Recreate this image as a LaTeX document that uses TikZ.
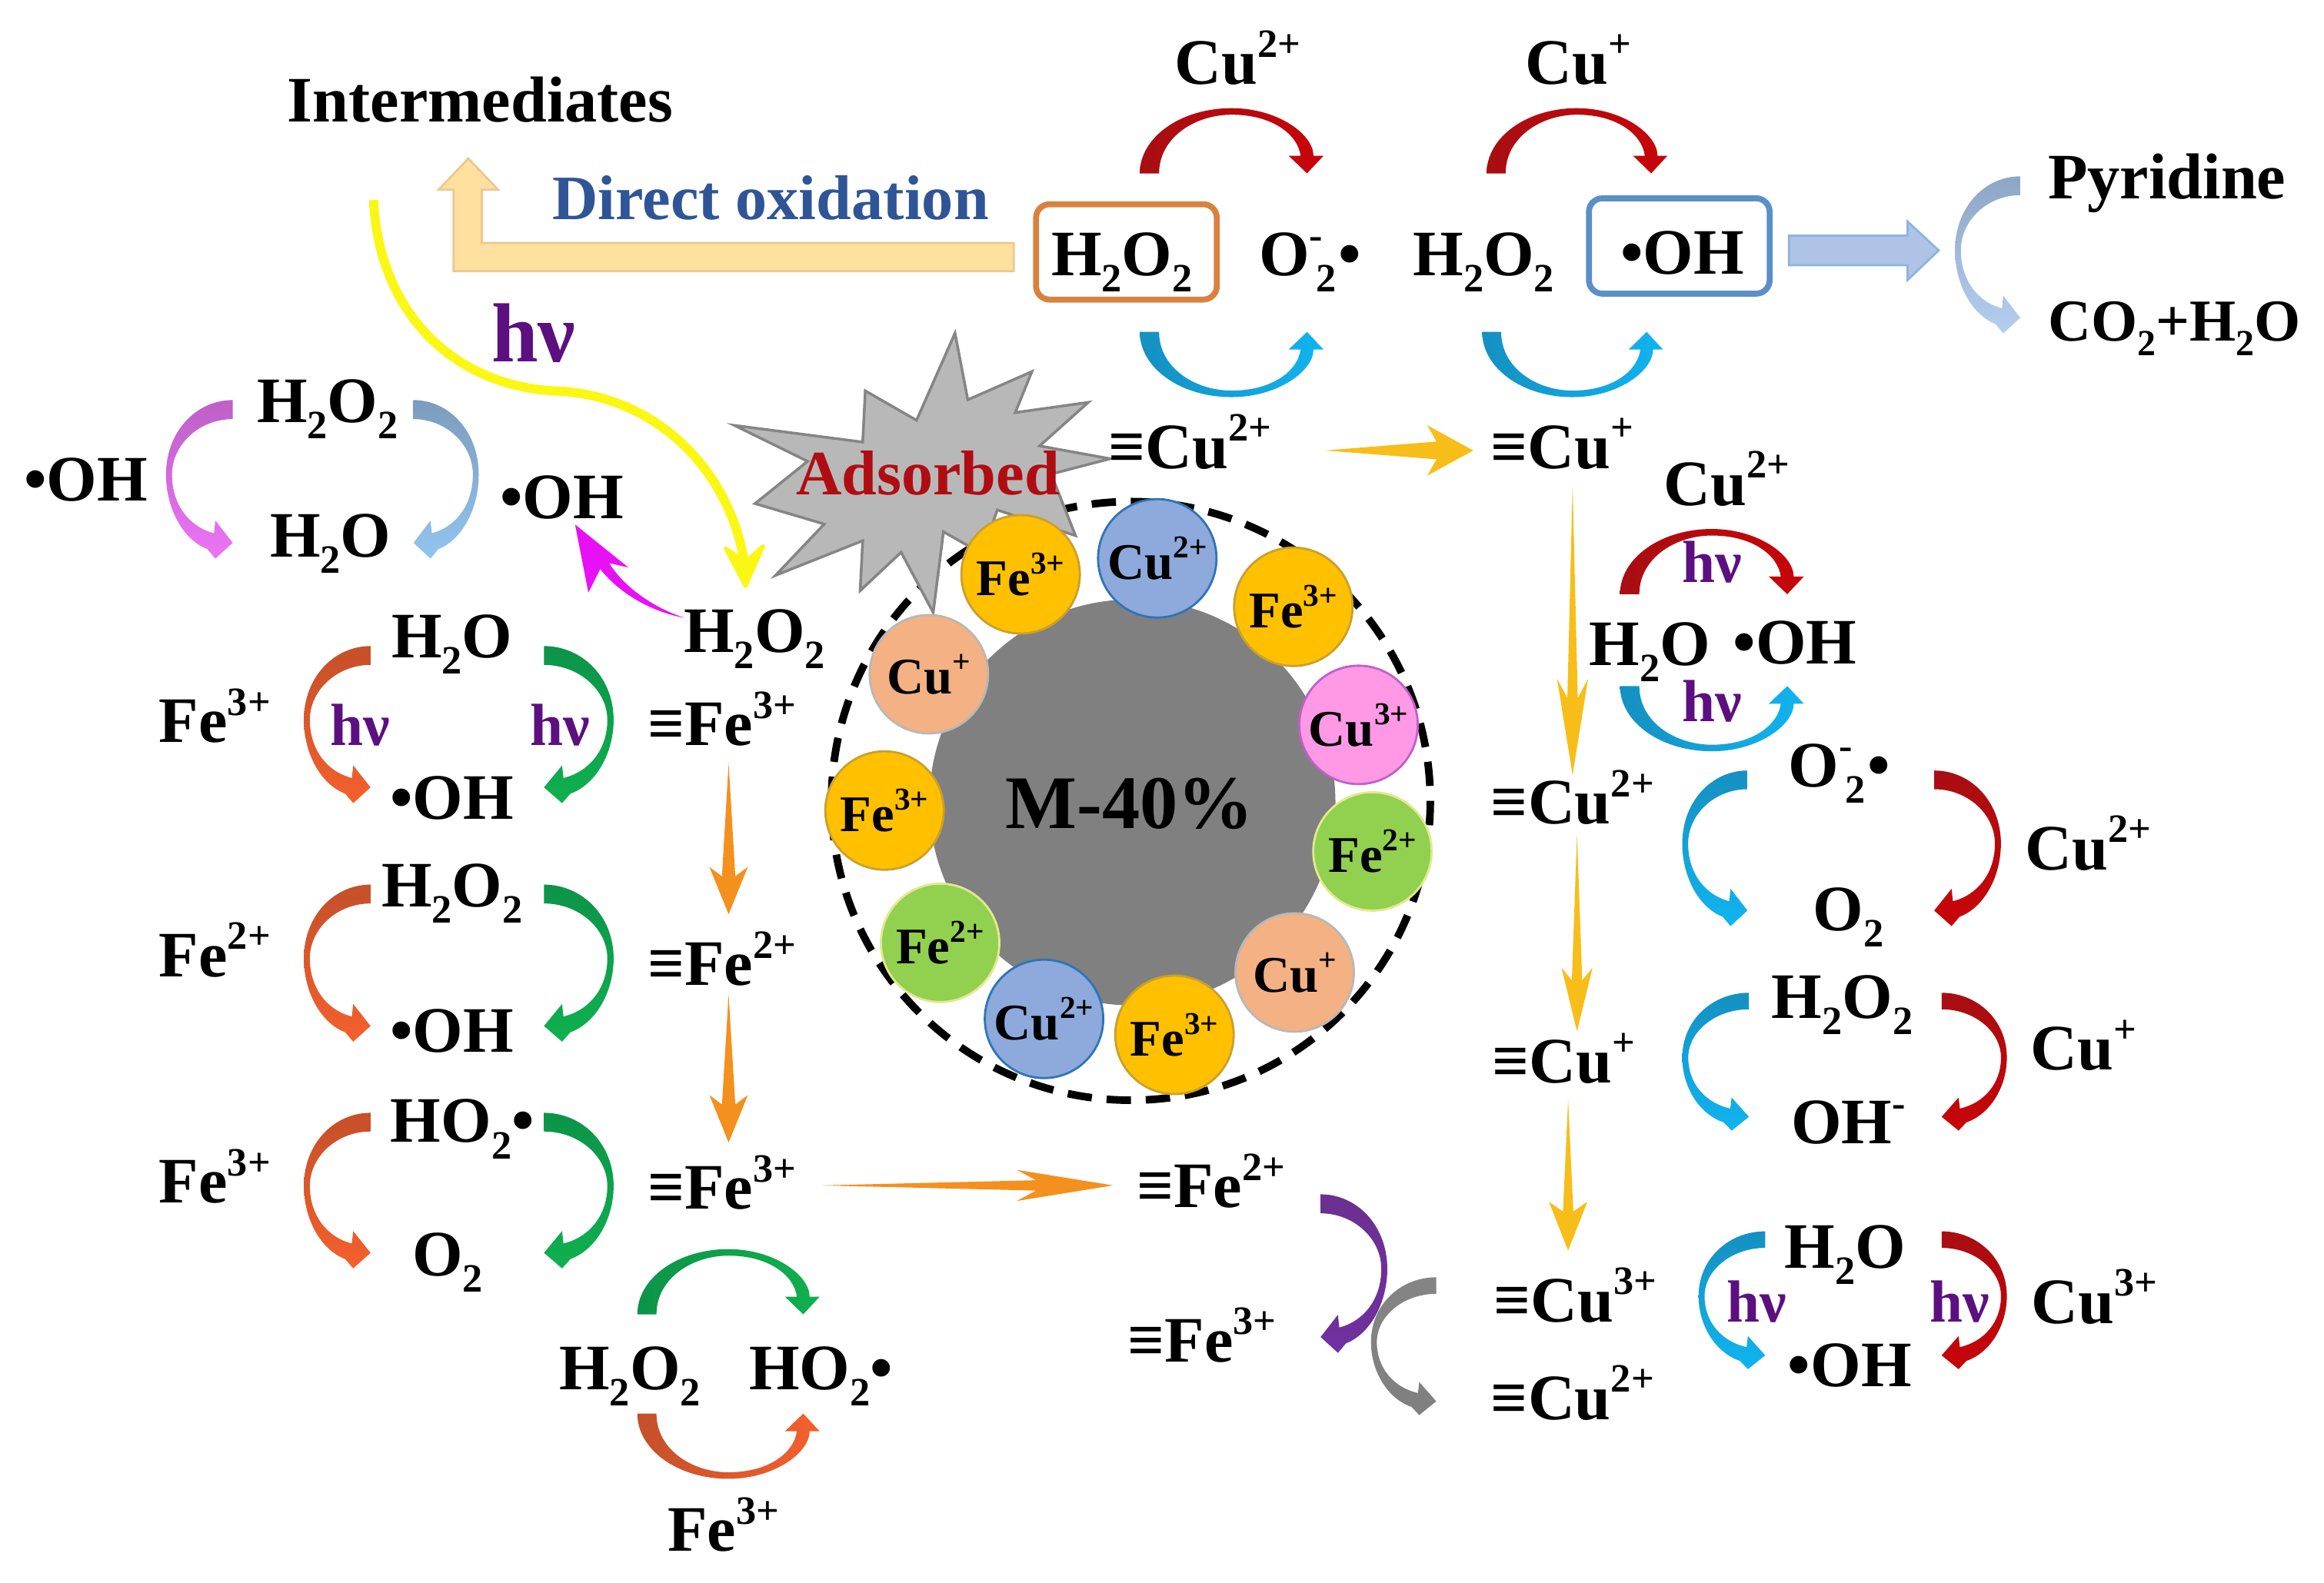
\documentclass[tikz,border=0pt]{standalone}
\usepackage{fontspec}
\setmainfont{Liberation Serif}
\definecolor{kred}{HTML}{B00D12}
\definecolor{kpur}{HTML}{5C1080}
\definecolor{FeY}{HTML}{FFC000}\definecolor{FeYe}{HTML}{C9A02E}
\definecolor{BallB}{HTML}{8EA9DB}\definecolor{BallBe}{HTML}{2E75B6}
\definecolor{BallO}{HTML}{F4B183}\definecolor{BallOe}{HTML}{B8B8B8}
\definecolor{BallP}{HTML}{FF99E6}\definecolor{BallPe}{HTML}{C060C8}
\definecolor{BallG}{HTML}{92D050}\definecolor{BallGe}{HTML}{E4E890}
\definecolor{Gold}{HTML}{F7BE1A}\definecolor{Org}{HTML}{F4901E}
\definecolor{RedA}{HTML}{A80E12}\definecolor{RedB}{HTML}{C80408}
\definecolor{CyA}{HTML}{1590C2}\definecolor{CyB}{HTML}{10B4F0}
\definecolor{OrA}{HTML}{C4502A}\definecolor{OrB}{HTML}{F4602C}
\definecolor{GrA}{HTML}{0C9448}\definecolor{GrB}{HTML}{10B050}
\definecolor{DirBlue}{HTML}{2F5597}
\definecolor{BoxO}{HTML}{D98240}\definecolor{BoxB}{HTML}{5A8FC8}
\definecolor{BlkF}{HTML}{AEC3E6}\definecolor{BlkD}{HTML}{8CB4E0}
\definecolor{PyrT}{HTML}{8EA6C6}\definecolor{PyrB}{HTML}{B4CEF0}
\definecolor{PurT}{HTML}{6C3090}\definecolor{PurB}{HTML}{7030A0}
\definecolor{PinkT}{HTML}{BE60C8}\definecolor{PinkB}{HTML}{EC74F4}
\definecolor{BlueT}{HTML}{7C9CBE}\definecolor{BlueB}{HTML}{92C4EE}
\definecolor{Yel}{HTML}{FBF714}\definecolor{Magen}{HTML}{E810F5}
\definecolor{OxF}{HTML}{FFE09E}\definecolor{OxD}{HTML}{EEC78F}
\newcommand\myup[1]{\raisebox{.42em}{\scalebox{.62}{#1}}}
\newcommand\mysub[1]{\raisebox{-.25em}{\scalebox{.62}{#1}}}
\newcommand\mystack[2]{\myup{#1}\kern-.1em\mysub{#2}\kern.03em}
\tikzset{
 txt/.style={anchor=base,inner sep=0pt,text=black,font=\fontsize{24}{26}\selectfont\bfseries},
 hvs/.style={txt,text=kpur,font=\fontsize{22}{24}\selectfont\bfseries},
 ball/.style={circle,minimum size=1.54cm,inner sep=0pt,line width=.8pt,text=black,font=\fontsize{19}{20}\selectfont\bfseries},
 feIII/.style={ball,fill=FeY,draw=FeYe},
 cuII/.style={ball,fill=BallB,draw=BallBe},
 cuI/.style={ball,fill=BallO,draw=BallOe},
 cuIII/.style={ball,fill=BallP,draw=BallPe},
 feII/.style={ball,fill=BallG,draw=BallGe},
 goldar/.style={fill=Gold},
 orgar/.style={fill=Org},
 redv/.style={top color=RedA,bottom color=RedB},
 bluev/.style={top color=CyA,bottom color=CyB},
 orv/.style={top color=OrA,bottom color=OrB},
 grv/.style={top color=GrA,bottom color=GrB},
 redh/.style={left color=RedA,right color=RedB},
 blueh/.style={left color=CyA,right color=CyB},
 grh/.style={left color=GrA,right color=GrB},
 orh/.style={left color=OrA,right color=OrB},
 boxed/.style={line width=2.2pt,rounded corners=5pt,minimum width=2.35cm,minimum height=1.24cm,inner sep=0pt},
}
% curved block arrow: (u,v) unit square mapped by origin and two vectors
\newcommand\cshape[7]{\begin{scope}[shift={(#2,#3)},x={(#4*0.019273cm,-#5*0.019273cm)},y={(#6*0.019273cm,-#7*0.019273cm)}]
 \path[#1] (1,0) .. controls (.45,0) and (0,.2) .. (0,.47) .. controls (0,.68) and (.25,.88) .. (.62,.94) -- (.74,1) -- (1,.9) -- (.74,.76) -- (.72,.84) .. controls (.35,.8) and (.09,.66) .. (.09,.47) .. controls (.09,.28) and (.5,.12) .. (1,.12) -- cycle;
\end{scope}}
% wide arc variant, for the arrows above and below a pair of labels
\newcommand\ashape[7]{\begin{scope}[shift={(#2,#3)},x={(#4*0.019273cm,-#5*0.019273cm)},y={(#6*0.019273cm,-#7*0.019273cm)}]
 \path[#1] (1,0) .. controls (.45,0) and (0,.22) .. (0,.5) .. controls (0,.75) and (.4,.945) .. (.73,.945) -- (.73,1) -- (1,.91) -- (.73,.81) -- (.73,.875) .. controls (.4,.86) and (.1,.72) .. (.1,.5) .. controls (.1,.3) and (.45,.105) .. (1,.105) -- cycle;
\end{scope}}
\newcommand\Cl[5]{\cshape{#1}{#2}{#3}{#4}{0}{0}{#5}}
\newcommand\Cr[5]{\cshape{#1}{#2+#4}{#3}{-#4}{0}{0}{#5}}
\newcommand\Ct[5]{\ashape{#1}{#2}{#3}{0}{#5}{#4}{0}}
\newcommand\Cb[5]{\ashape{#1}{#2}{#3+#5}{0}{-#5}{#4}{0}}
% straight tapered arrow: x y angle L headhalf headlen stemhalf style
\newcommand\spear[8]{\begin{scope}[shift={(#1,#2)},rotate=#3]
 \path[#8] (0,0) -- ({#4-#6*.8},#7) -- ({#4-#6},#5) -- (#4,0) -- ({#4-#6},-#5) -- ({#4-#6*.8},-#7) -- cycle;
\end{scope}}
\newcommand\T[5][]{\node[txt,#1] (#2) at (#3,#4+15) {#5};}
\begin{document}
\begin{tikzpicture}[x=0.019273cm,y=-0.019273cm]
\useasboundingbox (0,0) rectangle (1568,1068.3);
% core
\draw[black,line width=2.8pt,dash pattern=on 9pt off 5.5pt] (763,540.5) circle (202);
\fill[black!50] (764,541.5) circle (137);
% star
\begin{scope}[shift={(482.6,217.9)},scale=.17297]
\path[fill=black!28,draw=black!48,line width=1pt,line join=miter] (935,40) -- (985,300) -- (1235,190) -- (1170,350) -- (1455,310) -- (1265,480) -- (1540,530) -- (1310,590) -- (1405,830) -- (1100,730) -- (1040,900) -- (890,815) -- (850,1130) -- (725,895) -- (565,1045) -- (575,850) -- (235,985) -- (425,785) -- (155,705) -- (360,540) -- (75,400) -- (575,465) -- (585,265) -- (785,380) -- cycle;
\end{scope}
% balls
\node[feIII] (b1) at (688.6,387.6) {Fe\myup{3+}};
\node[cuII] (b2) at (780.8,376.8) {Cu\myup{2+}};
\node[feIII] (b3) at (872.6,409.5) {Fe\myup{3+}};
\node[cuIII] (b4) at (916.6,489.2) {Cu\myup{3+}};
\node[feII] (b5) at (926,574.6) {Fe\myup{2+}};
\node[cuI] (b6) at (873.5,656.3) {Cu\myup{+}};
\node[feIII] (b7) at (792.4,698.4) {Fe\myup{3+}};
\node[cuII] (b8) at (704.4,687.6) {Cu\myup{2+}};
\node[feII] (b9) at (634.3,636.3) {Fe\myup{2+}};
\node[feIII] (b10) at (596.8,547) {Fe\myup{3+}};
\node[cuI] (b11) at (626.7,455) {Cu\myup{+}};
\node[txt,font=\fontsize{28}{30}\selectfont\bfseries] (core) at (762,559) {M-40\%};
\node[txt,text=kred,font=\fontsize{23.4}{25}\selectfont\bfseries] (ads) at (626,334) {Adsorbed};
% direct-oxidation arrow
\path[fill=OxF,draw=OxD,line width=.8pt] (684,164) -- (325,164) -- (325,128) -- (336,128) -- (316,107) -- (296,128) -- (306,128) -- (306,183) -- (684,183) -- cycle;
\node[txt,text=DirBlue,font=\fontsize{23.4}{25}\selectfont\bfseries] (dir) at (520,148) {Direct oxidation};
% boxes
\node[boxed,draw=BoxO] (boxa) at (760,170) {};
\node[boxed,draw=BoxB] (boxb) at (1133,166) {};
% block arrow
\path[fill=BlkF,draw=BlkD,line width=.8pt] (1207,159) -- (1287,159) -- (1287,149.5) -- (1308,169) -- (1287,189) -- (1287,179) -- (1207,179) -- cycle;
\Cl{top color=PyrT,bottom color=PyrB}{1319}{119}{44}{106}
% top arcs
\Ct{redh}{769}{73}{124}{44}
\Ct{redh}{1003}{73}{122}{44}
\Cb{blueh}{769}{224}{124}{44}
\Cb{blueh}{1000}{224}{122}{44}
\Ct{redh}{1093}{357}{124}{44}
\Cb{blueh}{1093}{463}{124}{44}
% right side C arrows
\Cl{bluev}{1135}{520}{44}{105}
\Cr{redv}{1305}{520}{45}{105}
\Cl{bluev}{1135}{670}{45}{93}
\Cr{redv}{1310}{670}{44}{93}
\Cl{bluev}{1146}{831}{45}{93}
\Cr{redv}{1310}{831}{44}{93}
\Cr{top color=PurT,bottom color=PurB}{891}{806}{45}{107}
\Cl{top color=black!48,bottom color=black!50}{925}{862}{44}{93}
% left side C arrows
\Cl{top color=PinkT,bottom color=PinkB}{112}{270}{45}{107}
\Cr{top color=BlueT,bottom color=BlueB}{279}{270}{44}{107}
\Cl{orv}{205}{436}{45}{106}
\Cr{grv}{367}{436}{47}{106}
\Cl{orv}{205}{597}{45}{106}
\Cr{grv}{367}{597}{47}{106}
\Cl{orv}{205}{751}{45}{105}
\Cr{grv}{367}{751}{47}{105}
\Ct{grh}{430}{843}{123}{44}
\Cb{orh}{430}{954}{123}{44}
% straight arrows
\spear{894}{304}{0}{100}{17}{31}{6}{goldar}
\spear{1061}{327}{-90}{196}{10.5}{65}{3.5}{goldar}
\spear{1064}{563}{-90}{133}{10.5}{43}{3.5}{goldar}
\spear{1058}{742}{-90}{102}{13}{33}{3.5}{goldar}
\spear{491.6}{515}{-90}{102}{13}{32}{4.5}{orgar}
\spear{491.6}{671}{-90}{100}{13}{32}{4.5}{orgar}
\spear{554}{800}{0}{197}{10.5}{65}{3.5}{orgar}
% yellow arrow
\coordinate (ys) at (252,135);
\coordinate (ym) at (378,264);
\coordinate (ye) at (503,385);
\coordinate (yt) at (503,395.6);
\draw[Yel,line width=3.4pt] (ys) .. controls (256,215) and (310,262) .. (ym) .. controls (445,268) and (495,320) .. (ye);
\path[fill=Yel,draw=Yel,line width=1.4pt,line join=round] (yt) -- (489.5,370) -- (503,379) -- (515,368.5) -- cycle;
% magenta arrow
\path[fill=Magen] (462,417) .. controls (435,412) and (415,397) .. (405,384) -- (397,400) -- (388,354) -- (424,383) -- (411,380) .. controls (420,395) and (440,410) .. (462,417) -- cycle;
% texts
\T{t1}{324}{67}{Intermediates}
\T{t2}{835}{42}{Cu\myup{2+}}
\T{t3}{1065}{42}{Cu\myup{+}}
\T{t4}{757}{171}{H\mysub{2}O\mysub{2}}
\T{t5}{884}{171}{O\mystack{-}{2}•}
\T{t6}{1001}{171}{H\mysub{2}O\mysub{2}}
\T{t7}{1135}{170}{•OH}
\T{t8}{1462}{119}{Pyridine}
\T[font=\fontsize{22}{24}\selectfont\bfseries]{t9}{1467}{215}{CO\mysub{2}+H\mysub{2}O}
\T{t10}{803}{301}{≡Cu\myup{2+}}
\T{t11}{1054}{301}{≡Cu\myup{+}}
\T{t12}{1165}{326}{Cu\myup{2+}}
\T{t13}{1113}{434}{H\mysub{2}O}
\T{t14}{1211}{433}{•OH}
\node[hvs] (h1) at (1155,393) {hν};
\node[hvs] (h2) at (1155,487) {hν};
\T{t15}{1061}{541}{≡Cu\myup{2+}}
\T{t16}{1241}{516}{O\mystack{-}{2}•}
\T{t17}{1409}{572}{Cu\myup{2+}}
\T{t18}{1247}{613}{O\mysub{2}}
\T{t19}{1243}{672}{H\mysub{2}O\mysub{2}}
\T{t20}{1406}{707}{Cu\myup{+}}
\T{t21}{1247}{757}{OH\myup{-}}
\T{t22}{1055}{716}{≡Cu\myup{+}}
\T{t23}{1063}{877}{≡Cu\myup{3+}}
\T{t24}{1245}{841}{H\mysub{2}O}
\node[hvs] (h3) at (1185,892) {hν};
\node[hvs] (h4) at (1322,892) {hν};
\T{t25}{1413}{878}{Cu\myup{3+}}
\T{t26}{1248}{921}{•OH}
\T{t27}{1061}{943}{≡Cu\myup{2+}}
\T{t28}{817}{800}{≡Fe\myup{2+}}
\T{t29}{811}{904}{≡Fe\myup{3+}}
\T{t30}{221}{270}{H\mysub{2}O\mysub{2}}
\T{t31}{58}{323}{•OH}
\T{t32}{223}{361}{H\mysub{2}O}
\T{t33}{379}{335}{•OH}
\T{t34}{509}{425}{H\mysub{2}O\mysub{2}}
\T{t35}{305}{429}{H\mysub{2}O}
\T{t36}{145}{486}{Fe\myup{3+}}
\node[hvs] (h5) at (243,503) {hν};
\node[hvs] (h6) at (378,503) {hν};
\T{t37}{487}{488}{≡Fe\myup{3+}}
\T{t38}{305}{538}{•OH}
\T{t39}{305}{597}{H\mysub{2}O\mysub{2}}
\T{t40}{145}{644}{Fe\myup{2+}}
\T{t41}{487}{650}{≡Fe\myup{2+}}
\T{t42}{305}{695}{•OH}
\T{t43}{312}{756}{HO\mysub{2}•}
\T{t44}{145}{797}{Fe\myup{3+}}
\T{t45}{487}{801}{≡Fe\myup{3+}}
\T{t46}{302}{846}{O\mysub{2}}
\T{t47}{425}{923}{H\mysub{2}O\mysub{2}}
\T{t48}{554}{923}{HO\mysub{2}•}
\T{t49}{488}{1032}{Fe\myup{3+}}
\node[hvs,font=\fontsize{31}{33}\selectfont\bfseries] (hbig) at (360,244) {hν};
\end{tikzpicture}
\end{document}
